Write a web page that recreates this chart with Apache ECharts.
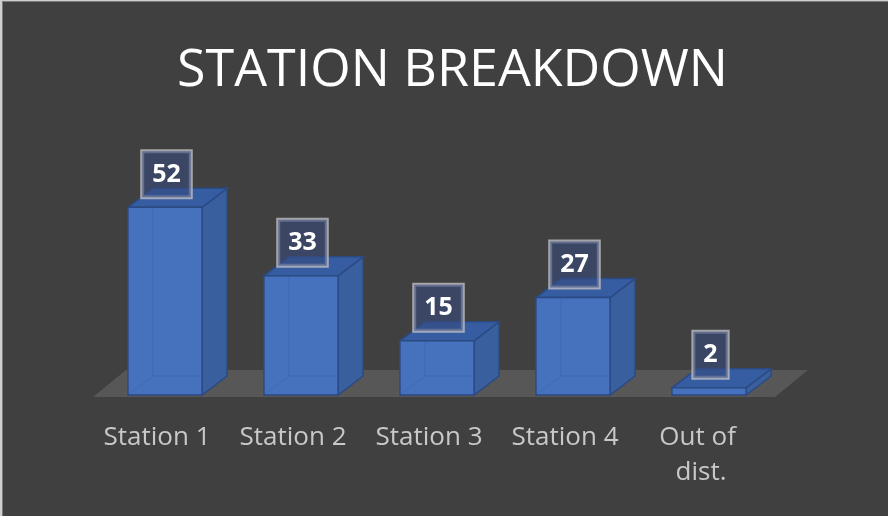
<!DOCTYPE html>
<html>
<head>
<meta charset="utf-8">
<script src="https://cdn.jsdelivr.net/npm/echarts@6/dist/echarts.min.js"></script>
<style>
html,body{margin:0;padding:0;background:#404040;}
#main{width:888px;height:516px;}
</style>
</head>
<body>
<div id="main"></div>
<script>
const titleText = 'STATION BREAKDOWN';
const categories = ['Station 1', 'Station 2', 'Station 3', 'Station 4', 'Out of dist.'];
const values = [52, 33, 15, 27, 2];

const DX = 25, DY = -19;
const FONT = '"Open Sans", "Noto Sans", sans-serif';

const chart = echarts.init(document.getElementById('main'), null, {renderer: 'canvas'});

function renderFloor(params, api) {
  const cs = params.coordSys;
  const yF = cs.y + cs.height + 2;
  const yBk = yF - 27;
  const xL = cs.x - 4, xR = cs.x + cs.width - 2;
  return {
    type: 'polygon',
    shape: {points: [[xL, yF], [xR, yF], [xR + 33, yBk], [xL + 33, yBk]]},
    style: {fill: '#575757'}
  };
}

function renderBar(params, api) {
  const idx = api.value(0), val = api.value(1);
  const top = api.coord([idx, val]);
  const base = api.coord([idx, 0]);
  const bw = api.size([1, 0])[0] * 0.545;
  const x0 = top[0] - bw / 2, x1 = top[0] + bw / 2;
  const yT = top[1], yB = base[1];
  const edge = '#2b4a82';
  const ghost = 'rgba(50,85,150,0.3)';
  const children = [
    {
      type: 'polygon',
      shape: {points: [[x1, yB], [x1, yT], [x1 + DX, yT + DY], [x1 + DX, yB + DY]]},
      style: {fill: '#3a5f9f', stroke: edge, lineWidth: 1.5}
    },
    {
      type: 'polygon',
      shape: {points: [[x0, yT], [x1, yT], [x1 + DX, yT + DY], [x0 + DX, yT + DY]]},
      style: {fill: '#365ca2', stroke: edge, lineWidth: 1.5}
    },
    {
      type: 'rect',
      shape: {x: x0, y: yT, width: bw, height: yB - yT},
      style: {fill: '#4571bd', stroke: edge, lineWidth: 1.5}
    }
  ];
  if (yB - yT > -DY) {
    children.push({
      type: 'polyline',
      shape: {points: [[x0 + DX, yT + 1], [x0 + DX, yB + DY], [x0 + 1, yB - 1]]},
      style: {stroke: ghost, lineWidth: 1, fill: null}
    });
    children.push({
      type: 'line',
      shape: {x1: x0 + DX, y1: yB + DY, x2: x1 - 1, y2: yB + DY},
      style: {stroke: ghost, lineWidth: 1}
    });
  }
  children.push({
    type: 'text',
    style: {
      text: String(val),
      x: top[0] + 1.5, y: yT - 10,
      align: 'center', verticalAlign: 'bottom',
      fill: '#ffffff',
      font: 'bold 25px ' + FONT,
      lineHeight: 25,
      backgroundColor: 'rgba(55,75,125,0.6)',
      borderColor: 'rgba(190,190,195,0.8)', borderWidth: 2,
      padding: [11, 10, 10, 10]
    }
  });
  return {type: 'group', children: children};
}

chart.setOption({
  backgroundColor: '#404040',
  animation: false,
  title: {
    text: titleText,
    left: 172,
    top: 40,
    textStyle: {color: '#ffffff', fontSize: 52, fontWeight: 'normal', fontFamily: FONT}
  },
  graphic: [
    {type: 'rect', left: 0, top: 0, shape: {width: 2, height: 516}, style: {fill: '#cfcfcf'}, z: 100},
    {type: 'rect', left: 2, top: 1, shape: {width: 1, height: 515}, style: {fill: '#7a7a7a'}, z: 100},
    {type: 'rect', left: 0, top: 0, shape: {width: 888, height: 1}, style: {fill: '#cfcfcf'}, z: 100},
    {type: 'rect', left: 2, top: 1, shape: {width: 886, height: 1}, style: {fill: '#7a7a7a'}, z: 100}
  ],
  grid: {left: 97, right: 111, top: 178.4, bottom: 121, containLabel: false},
  xAxis: {
    type: 'category',
    data: categories,
    axisLine: {show: false},
    axisTick: {show: false},
    splitLine: {show: false},
    axisLabel: {
      color: '#c8c8c8', fontSize: 26, fontFamily: FONT, margin: 25,
      lineHeight: 35, width: 124, overflow: 'break', interval: 0,
      padding: [0, 16, 0, 0]
    }
  },
  yAxis: {type: 'value', min: 0, max: 60, show: false},
  series: [
    {
      type: 'custom',
      renderItem: renderFloor,
      data: [[0]],
      silent: true
    },
    {
      type: 'custom',
      renderItem: renderBar,
      data: values.map((v, i) => [i, v]),
      encode: {x: 0, y: 1}
    }
  ]
});
</script>
</body>
</html>
